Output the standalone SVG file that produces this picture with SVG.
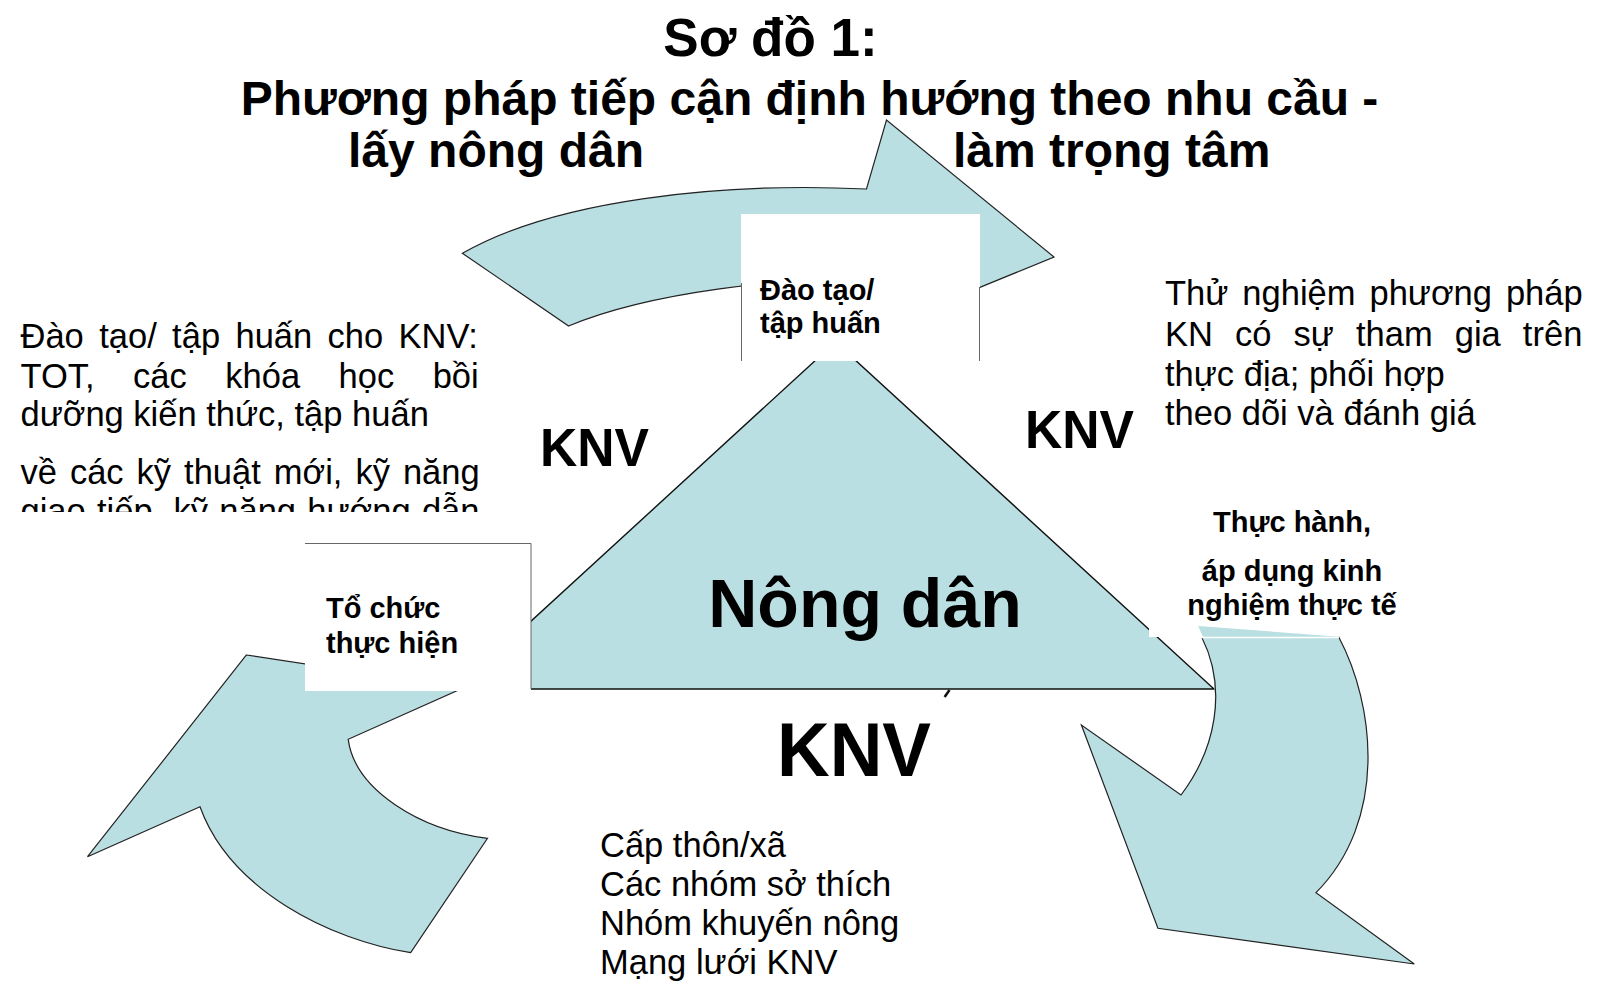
<svg xmlns="http://www.w3.org/2000/svg" width="1607" height="983" viewBox="0 0 1607 983">
  <defs>
    <style>
      .shape { fill: #BADFE3; stroke: none; }
      .edge { fill: none; stroke: #222; stroke-width: 1.2; stroke-linejoin: miter; }
      .arrow { fill: #BADFE3; stroke: #222; stroke-width: 1.2; stroke-linejoin: miter; }
      .box { fill: #FFFFFF; stroke: none; }
      .boxline { fill: none; stroke: #666; stroke-width: 1; }
      .title { font-family: "Liberation Sans", Arial, sans-serif; font-weight: bold; fill: #000; }
      .label { font-family: "Liberation Sans", Arial, sans-serif; font-weight: bold; font-size: 29px; fill: #000; }
      .knv { font-family: "Liberation Sans", Arial, sans-serif; font-weight: bold; fill: #000; }
      .body { font-family: "Liberation Sans", Arial, sans-serif; font-size: 34.5px; fill: #000; }
    </style>
    <clipPath id="leftTextClip">
      <rect x="0" y="300" width="520" height="212"/>
    </clipPath>
  </defs>

  <!-- Title -->
  <g id="title">
    <text class="title" x="770.5" y="56" font-size="53" text-anchor="middle">Sơ đồ 1:</text>
    <text class="title" x="809.5" y="115" font-size="48" text-anchor="middle">Phương pháp tiếp cận định hướng theo nhu cầu -</text>
    <text class="title" x="348" y="167" font-size="48">lấy nông dân</text>
    <text class="title" x="953" y="167" font-size="48">làm trọng tâm</text>
  </g>

  <!-- Curved block arrows around the triangle -->
  <g id="connectors">
    <g id="arrow-top">
      <path class="arrow" d="M462.4,253.3 C555,200 720,182 866.5,189 L886.5,120 L1054,257 L905,318 L868,281 C790,276 650,292 568.6,326 Z"/>
    </g>
    <g id="arrow-left">
      <path class="arrow" d="M246.4,655 L463,688 L348.2,739.3 C355,790 420,830 487.5,838.3 L410.7,952.7 C330,940 230,890 200,806.7 L87.5,856.7 Z"/>
    </g>
  </g>

  <!-- Central triangle: farmers -->
  <g id="node-nong-dan">
    <path d="M835.5,342 L457,689 L1214,689 Z" fill="#BADFE3" stroke="#111" stroke-width="1.4"/>
    <path d="M944.6,697 L949.5,690" stroke="#111" stroke-width="2.5" fill="none"/>
    <text class="knv" x="865" y="627" font-size="68" text-anchor="middle">Nông dân</text>
  </g>

  <!-- Practice / apply experience -->
  <g id="node-thuc-hanh">
    <rect class="box" x="1149" y="480" width="270" height="157"/>
    <text class="label" x="1292" y="532" text-anchor="middle">Thực hành,</text>
    <text class="label" x="1292" y="581" text-anchor="middle">áp dụng kinh</text>
    <text class="label" x="1292" y="615" text-anchor="middle">nghiệm thực tế</text>
  </g>

  <g id="arrow-right">
    <path class="shape" d="M1198.2,626 L1338.6,636.7 C1375,705 1388,820 1316,892.7 L1414.3,964 L1157.9,928.3 L1081.4,725 L1181,795 C1215,750 1228,690 1198.2,626 Z"/>
    <path class="edge" d="M1338.6,636.7 C1375,705 1388,820 1316,892.7 L1414.3,964 L1157.9,928.3 L1081.4,725 L1181,795 C1215,750 1228,690 1201.8,637.3"/>
    <path d="M1200,637.5 L1339,637.5" stroke="#FFFFFF" stroke-width="1.5"/>
  </g>

  <!-- Training box -->
  <g id="node-dao-tao">
    <rect class="box" x="741" y="214" width="239" height="147"/>
    <path class="boxline" d="M741.5,283 L741.5,361 M979.5,287 L979.5,361"/>
    <text class="label" x="760" y="300">Đào tạo/</text>
    <text class="label" x="760" y="333">tập huấn</text>
  </g>

  <!-- Organise implementation box -->
  <g id="node-to-chuc">
    <rect class="box" x="305" y="543" width="226" height="148"/>
    <path class="boxline" d="M305,543.5 L531,543.5 L531,689" stroke="#444"/>
    <text class="label" x="326" y="618">Tổ chức</text>
    <text class="label" x="326" y="653">thực hiện</text>
  </g>

  <!-- Extension worker labels -->
  <g id="label-knv-left">
    <text class="knv" x="540" y="466" font-size="54" textLength="109" lengthAdjust="spacingAndGlyphs">KNV</text>
  </g>
  <g id="label-knv-right">
    <text class="knv" x="1025" y="448" font-size="54" textLength="109" lengthAdjust="spacingAndGlyphs">KNV</text>
  </g>
  <g id="label-knv-bottom">
    <text class="knv" x="777" y="776" font-size="76" textLength="154" lengthAdjust="spacingAndGlyphs">KNV</text>
  </g>

  <!-- Descriptive text blocks -->
  <g id="text-training" clip-path="url(#leftTextClip)">
    <text class="body" x="20.5" y="348" word-spacing="5.8">Đào tạo/ tập huấn cho KNV:</text>
    <text class="body" x="20.5" y="387.5" word-spacing="28.9">TOT, các khóa học bồi</text>
    <text class="body" x="20.5" y="426">dưỡng kiến thức, tập huấn</text>
    <text class="body" x="20.5" y="484" word-spacing="3.4">về các kỹ thuật mới, kỹ năng</text>
    <text class="body" x="20.5" y="523" word-spacing="1.7">giao tiếp, kỹ năng hướng dẫn</text>
  </g>

  <g id="text-testing">
    <text class="body" x="1165" y="305" word-spacing="4.4">Thử nghiệm phương pháp</text>
    <text class="body" x="1165" y="346" word-spacing="12.5">KN có sự tham gia trên</text>
    <text class="body" x="1165" y="386">thực địa; phối hợp</text>
    <text class="body" x="1165" y="425">theo dõi và đánh giá</text>
  </g>

  <g id="text-groups">
    <text class="body" x="600" y="856.7">Cấp thôn/xã</text>
    <text class="body" x="600" y="896">Các nhóm sở thích</text>
    <text class="body" x="600" y="935">Nhóm khuyến nông</text>
    <text class="body" x="600" y="974.3">Mạng lưới KNV</text>
  </g>
</svg>
